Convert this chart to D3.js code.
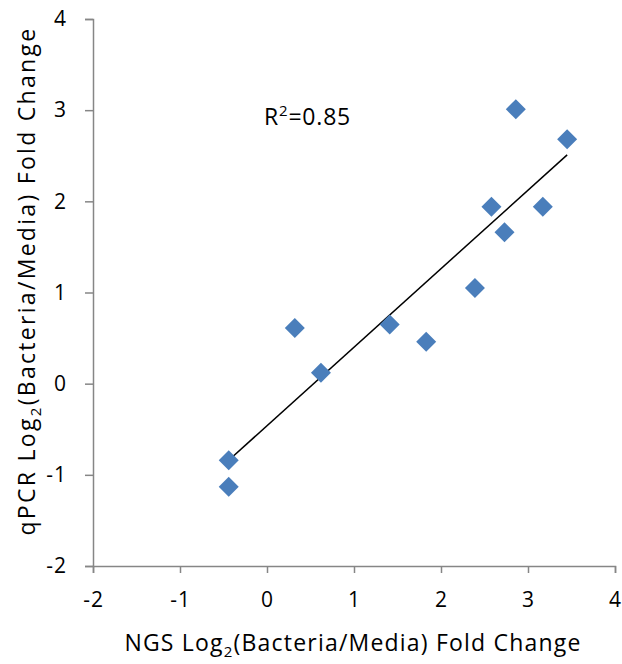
<!DOCTYPE html>
<html><head><meta charset="utf-8">
<script src="https://cdn.jsdelivr.net/npm/d3@7"></script>
<style>body{margin:0;background:#fff}</style>
</head><body>
<script>
const ngs  = [-0.44, -0.44, 0.32, 0.62, 1.41, 1.83, 2.39, 2.58, 2.73, 2.86, 3.17, 3.45];
const qpcr = [-0.84, -1.13, 0.61, 0.12, 0.65, 0.46, 1.05, 1.94, 1.66, 3.01, 1.94, 2.68];
const trendX = [-0.44, 3.45];
const trendY = [-0.84, 2.51];
const xTicks = [-2, -1, 0, 1, 2, 3, 4];
const yTicks = [-2, -1, 0, 1, 2, 3, 4];
const rLabel = "0.85";

const W = 622, H = 664;
const font = "'Open Sans', sans-serif";
const svg = d3.select("body").append("svg").attr("width", W).attr("height", H);
const x = d3.scaleLinear().domain([-2, 4]).range([93, 615]);
const y = d3.scaleLinear().domain([-2, 4]).range([566, 19]);

const axisColor = "#868686";
const gx = svg.append("g").attr("transform", `translate(0,${y(-2)})`)
  .call(d3.axisBottom(x).tickValues(xTicks).tickSize(7).tickPadding(19).tickFormat(d3.format("d")));
const gy = svg.append("g").attr("transform", `translate(${x(-2)},0)`)
  .call(d3.axisLeft(y).tickValues(yTicks).tickSize(8).tickPadding(18).tickFormat(d3.format("d")));
[gx, gy].forEach(g => {
  g.select(".domain").attr("stroke", axisColor).attr("stroke-width", 1.5);
  g.selectAll(".tick line").attr("stroke", axisColor).attr("stroke-width", 1.5);
  g.selectAll(".tick text").attr("fill", "#000").style("font-size", "21px")
    .style("letter-spacing", "1px").style("font-family", font);
});
gx.selectAll(".tick text").text(d => d < 0 ? "-" + Math.abs(d) : d);
gy.selectAll(".tick text").text(d => d < 0 ? "-" + Math.abs(d) : d);

// trend line
svg.append("line")
  .attr("x1", x(trendX[0])).attr("y1", y(trendY[0]))
  .attr("x2", x(trendX[1])).attr("y2", y(trendY[1]))
  .attr("stroke", "#000").attr("stroke-width", 1.5);

// points
const sym = d3.symbol().type(d3.symbolSquare).size(200);
svg.append("g").selectAll("path").data(ngs.map((v, i) => [v, qpcr[i]])).join("path")
  .attr("d", sym)
  .attr("transform", d => `translate(${x(d[0])},${y(d[1])}) rotate(45)`)
  .attr("fill", "#4a7ebb");

// annotation
const ann = svg.append("text").attr("x", 264).attr("y", 124.5)
  .style("font-family", font).style("font-size", "23px").style("letter-spacing", "0.8px");
ann.append("tspan").text("R");
ann.append("tspan").text("2").attr("dy", -9).style("font-size", "15px");
ann.append("tspan").text("=" + rLabel).attr("dy", 9);

// x title
const xt = svg.append("text").attr("x", 353).attr("y", 651).attr("text-anchor", "middle")
  .style("font-family", font).style("font-size", "23px").style("letter-spacing", "1.2px");
xt.append("tspan").text("NGS Log");
xt.append("tspan").text("2").attr("dy", 6).style("font-size", "15px");
xt.append("tspan").text("(Bacteria/Media) Fold Change").attr("dy", -6);

// y title
const yt = svg.append("text").attr("transform", "translate(35,281) rotate(-90)").attr("text-anchor", "middle")
  .style("font-family", font).style("font-size", "23px").style("letter-spacing", "2.3px");
yt.append("tspan").text("qPCR Log");
yt.append("tspan").text("2").attr("dy", 6).style("font-size", "15px");
yt.append("tspan").text("(Bacteria/Media) Fold Change").attr("dy", -6);
</script>
</body></html>
